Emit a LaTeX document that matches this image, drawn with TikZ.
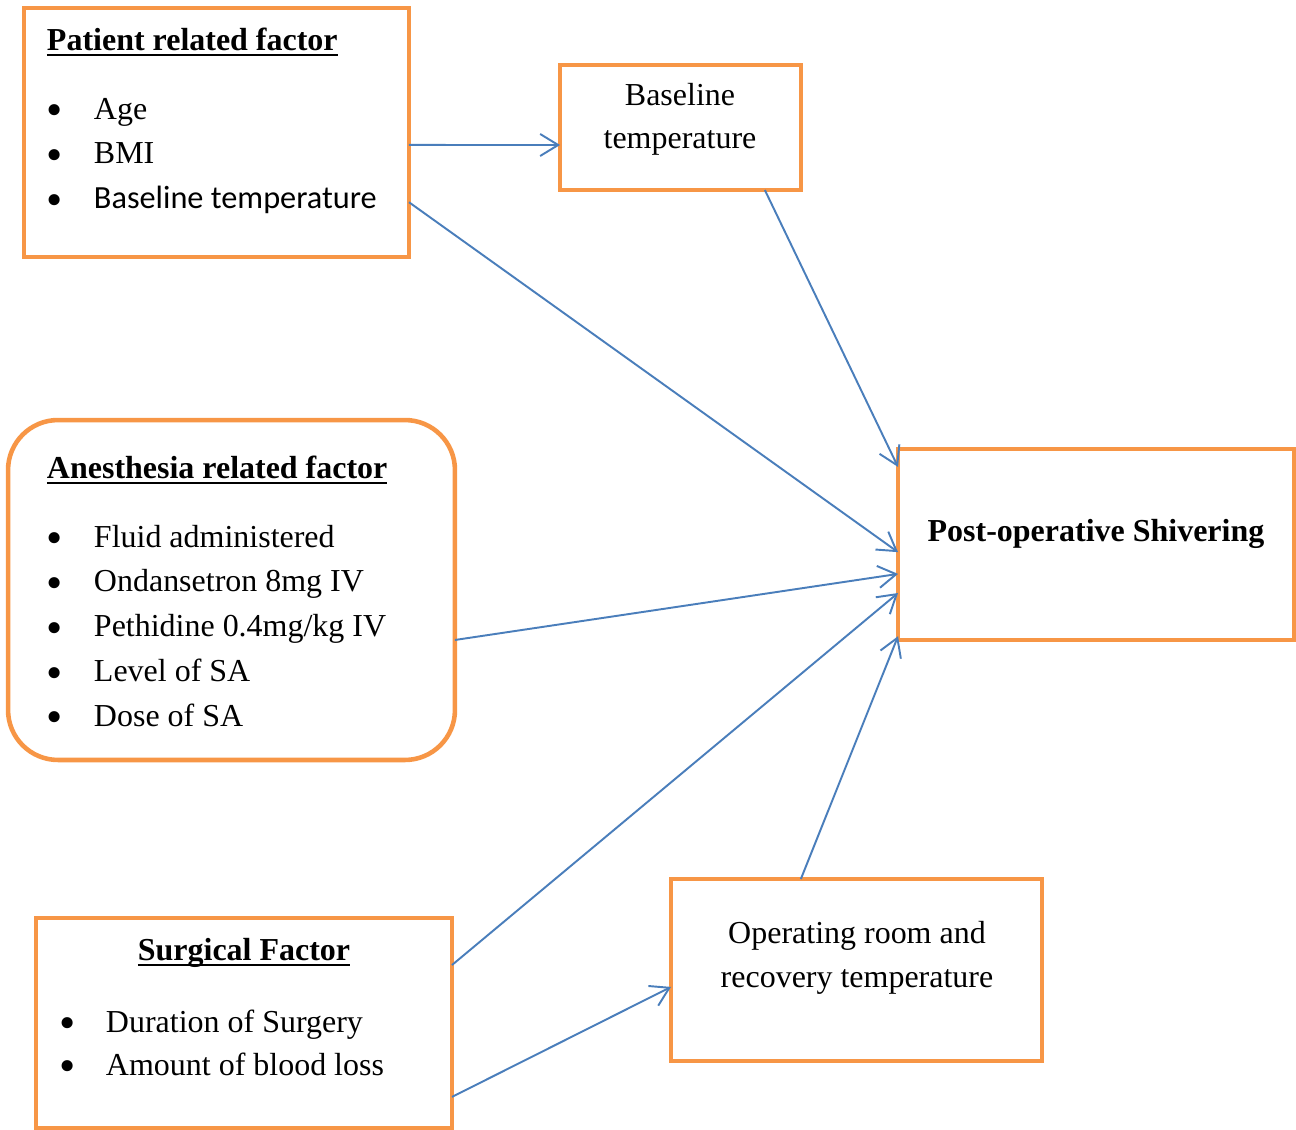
\documentclass[tikz,border=0pt]{standalone}
\usepackage{fontspec}
\setmainfont{Liberation Serif}
\newfontfamily\calibrifont[Scale=1.01]{Carlito}
\usetikzlibrary{positioning, calc, arrows.meta}

\definecolor{boxorange}{HTML}{F79646}
\definecolor{arrowblue}{HTML}{4A7EBB}

\newcommand\ultitle[1]{\setbox0\hbox{\bfseries #1}\rlap{\rule[-3.6pt]{\wd0}{1.6pt}}\box0}
\newcommand\bul{\makebox[0.94cm][l]{\raisebox{-3.8pt}{\scalebox{1.45}{\textbullet}}}}

\tikzset{
  factorbox/.style={draw=boxorange, line width=2.6pt, inner sep=0, outer sep=0},
  txt/.style={inner sep=0, outer sep=0, font=\fontsize{18.2}{25.5}\selectfont},
  item/.style={txt, anchor=base west},
  arr/.style={arrowblue, line width=1.1pt, -{Straight Barb[length=3.6mm,width=4.4mm]}}
}

\begin{document}
\begin{tikzpicture}[x=0.02cm,y=-0.02cm]
    \useasboundingbox (0,0) rectangle (1296,1130);

    \node(pat)[factorbox, minimum width=7.7cm, minimum height=4.98cm] at (216.5,132.5){};
    \node(bl)[factorbox, minimum width=4.82cm, minimum height=2.5cm] at (680.5,127.5){};
    \node(post)[factorbox, minimum width=7.92cm, minimum height=3.82cm] at (1096,544.5){};
    \node(anes)[factorbox, rounded corners=1cm, minimum width=8.94cm, minimum height=6.8cm] at (231.5,590){};
    \node(surg)[factorbox, minimum width=8.32cm, minimum height=4.2cm] at (244,1023){};
    \node(room)[factorbox, minimum width=7.42cm, minimum height=3.64cm] at (856.5,970){};

    \node(pattitle)[item] at (47,50){\ultitle{Patient related factor}};
    \node(age)[item] at (47,119){\bul Age\strut};
    \node(bmi)[txt, below right=0mm and 0mm of age.south west]{\bul BMI\strut};
    \node(btemp)[txt, below right=0mm and 0mm of bmi.south west]{\bul{\calibrifont Baseline temperature}\strut};

    \node(bltxt)[txt, anchor=base, align=center, font=\fontsize{18.2}{24}\selectfont] at (680,148){Baseline\\temperature};
    \node(posttxt)[txt, anchor=base] at (1096,541){\bfseries Post-operative Shivering};

    \node(anestitle)[item] at (47,478){\ultitle{Anesthesia related factor}};
    \node(fluid)[item] at (47,547){\bul Fluid administered\strut};
    \node(onda)[txt, below right=0mm and 0mm of fluid.south west]{\bul Ondansetron 8mg IV\strut};
    \node(peth)[txt, below right=0mm and 0mm of onda.south west]{\bul Pethidine 0.4mg/kg IV\strut};
    \node(level)[txt, below right=0mm and 0mm of peth.south west]{\bul Level of SA\strut};
    \node(dose)[txt, below right=0mm and 0mm of level.south west]{\bul Dose of SA\strut};

    \node(surgtitle)[txt, anchor=base] at (244,960){\ultitle{Surgical Factor}};
    \node(dur)[item] at (59,1032){\bul Duration of Surgery\strut};
    \node(blood)[item] at (59,1075){\bul Amount of blood loss\strut};

    \node(roomtxt)[txt, anchor=base, align=center, font=\fontsize{18.2}{25}\selectfont] at (857,987){Operating room and\\recovery temperature};

    \draw[arr]($(pat.north east)!0.55!(pat.south east)$)--($(bl.north west)!0.64!(bl.south west)$);
    \draw[arr]($(pat.north east)!0.78!(pat.south east)$)--($(post.north west)!0.54!(post.south west)$);
    \draw[arr]($(bl.south west)!0.85!(bl.south east)$)--($(post.north west)!0.094!(post.south west)$);
    \draw[arr]($(anes.north east)!0.647!(anes.south east)$)--($(post.north west)!0.654!(post.south west)$);
    \draw[arr]($(surg.north east)!0.224!(surg.south east)$)--($(post.north west)!0.754!(post.south west)$);
    \draw[arr]($(surg.north east)!0.852!(surg.south east)$)--($(room.north west)!0.593!(room.south west)$);
    \draw[arr]($(room.north west)!0.35!(room.north east)$)--($(post.north west)!0.98!(post.south west)$);
\end{tikzpicture}
\end{document}
